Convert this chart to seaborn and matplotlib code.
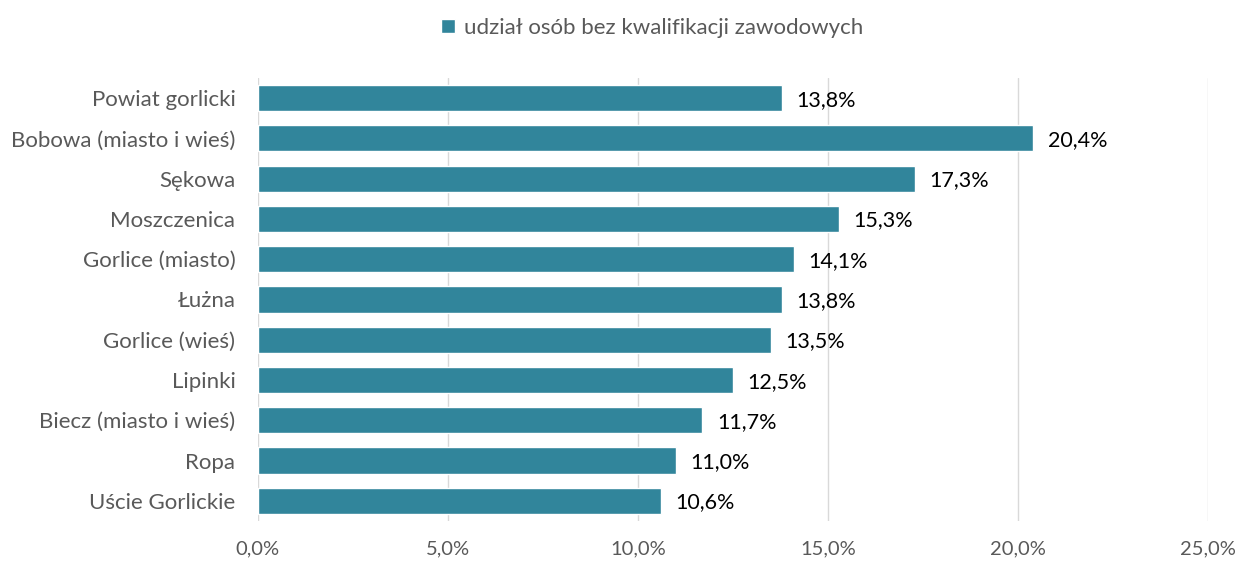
import seaborn as sns
import matplotlib.pyplot as plt
import pandas as pd

# dane
gminy = ['Powiat gorlicki', 'Bobowa (miasto i wieś)', 'Sękowa', 'Moszczenica',
         'Gorlice (miasto)', 'Łużna', 'Gorlice (wieś)', 'Lipinki',
         'Biecz (miasto i wieś)', 'Ropa', 'Uście Gorlickie']
udzial = [13.8, 20.4, 17.3, 15.3, 14.1, 13.8, 13.5, 12.5, 11.7, 11.0, 10.6]
xticks = [0, 5, 10, 15, 20, 25]
seria = 'udział osób bez kwalifikacji zawodowych'

df = pd.DataFrame({'gmina': gminy, 'udzial': udzial})

sns.set_style('white')
plt.rcParams['font.family'] = ['Lato', 'DejaVu Sans']

kolor = '#31859B'
szary = '#595959'

fig = plt.figure(figsize=(12.39, 5.65), dpi=100)
ax = fig.add_axes([0.208, 0.078, 0.767, 0.784])

sns.barplot(data=df, x='udzial', y='gmina', color=kolor, width=0.65,
            saturation=1, ax=ax, label=seria)

# etykiety danych
for i, v in enumerate(udzial):
    ax.text(v + 0.38, i + 0.04, f'{v:.1f}%'.replace('.', ','), va='center', ha='left',
            fontsize=15.5, color='black')

ax.set_xlim(0, 25)
ax.set_ylim(10.5, -0.5)
ax.set_xticks(xticks)
ax.set_xticklabels([f'{t:.1f}%'.replace('.', ',') for t in xticks],
                   fontsize=14.5, color=szary)
ax.tick_params(axis='y', labelsize=16, labelcolor=szary, length=0, pad=16)
ax.tick_params(axis='x', length=0, pad=14)
ax.set_xlabel('')
ax.set_ylabel('')
ax.grid(axis='x', color='#D9D9D9', linewidth=1)
ax.set_axisbelow(True)
for s in ax.spines.values():
    s.set_visible(False)

leg = ax.legend(loc='upper center', bbox_to_anchor=(0.415, 1.18), frameon=False,
                fontsize=16, handlelength=0.6, handleheight=0.6, handletextpad=0.4)
for t in leg.get_texts():
    t.set_color(szary)

fig.savefig('out.png', dpi=100)
